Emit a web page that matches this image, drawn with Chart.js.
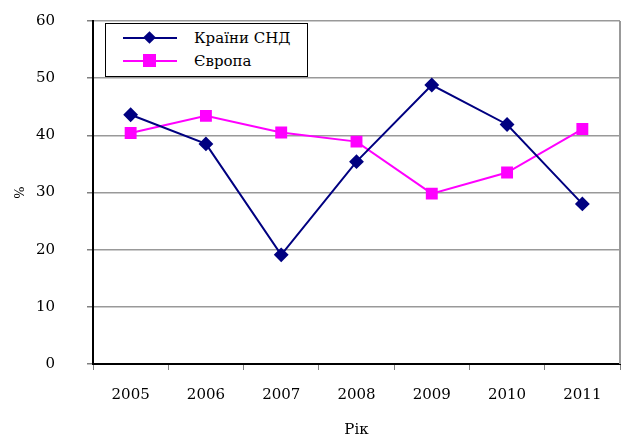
<!DOCTYPE html>
<html>
<head>
<meta charset="utf-8">
<script src="https://cdn.jsdelivr.net/npm/chart.js"></script>
<style>
  body { margin: 0; background: #fff; }
  #wrap { position: relative; width: 622px; height: 439px; }
  #legend {
    position: absolute; left: 105px; top: 23px; width: 203px; height: 54px;
    border: 1px solid #000; background: #fff; box-sizing: border-box;
    font-family: "DejaVu Serif", serif; font-size: 15px;
  }
  .item { position: absolute; left: 0; height: 22px; }
  .line { position: absolute; left: 17px; top: 10px; width: 54px; height: 2px; }
  .mark { position: absolute; }
  .txt { position: absolute; left: 88px; top: 0; white-space: nowrap; line-height: 22px; }
</style>
</head>
<body>
<div id="wrap">
  <canvas id="rates" width="622" height="439"></canvas>
  <div id="legend"></div>
</div>
<script>
var years = ["2005", "2006", "2007", "2008", "2009", "2010", "2011"];
var cisValues = [43.6, 38.5, 19.1, 35.4, 48.8, 41.9, 28];
var europeValues = [40.4, 43.4, 40.5, 38.9, 29.8, 33.5, 41.1];
var seriesNames = ["Країни СНД", "Європа"];
var seriesColors = ["#000080", "#FF00FF"];

var font = { family: "DejaVu Serif", size: 15 };

new Chart("rates", {
  type: "line",
  data: {
    labels: years,
    datasets: [{
      label: seriesNames[0],
      data: cisValues,
      borderColor: seriesColors[0],
      backgroundColor: seriesColors[0],
      borderWidth: 2,
      pointStyle: "rectRot",
      pointRadius: 6,
      pointHoverRadius: 6,
      tension: 0
    }, {
      label: seriesNames[1],
      data: europeValues,
      borderColor: seriesColors[1],
      backgroundColor: seriesColors[1],
      borderWidth: 2,
      pointStyle: "rect",
      pointRadius: 7,
      pointHoverRadius: 7,
      tension: 0
    }]
  },
  options: {
    responsive: false,
    animation: false,
    layout: { autoPadding: false, padding: { top: 21, right: 2, left: 0, bottom: 0 } },
    plugins: {
      legend: { display: false },
      tooltip: { enabled: false }
    },
    scales: {
      x: {
        offset: true,
        grid: { display: true, drawOnChartArea: false, offset: true, tickLength: 6, color: "#808080" },
        border: { color: "#000", width: 2 },
        ticks: { color: "#000", font: font, padding: 16, maxRotation: 0 },
        title: { display: true, text: "Рік", color: "#000", font: font, padding: { top: 11, bottom: 0 } },
        afterFit: function (s) { s.height = 75; s.paddingLeft = 0; s.paddingRight = 0; }
      },
      y: {
        min: 0,
        max: 60,
        ticks: { stepSize: 10, color: "#000", font: font, padding: 32 },
        grid: { color: "#999", lineWidth: 1.5, tickLength: 6, tickColor: "#808080" },
        border: { color: "#000", width: 2 },
        title: { display: true, text: "%", color: "#000", font: { family: "DejaVu Serif", size: 13 }, padding: { top: 13, bottom: 0 } },
        afterFit: function (s) { s.width = 93; s.paddingTop = 0; s.paddingBottom = 0; }
      }
    }
  },
  plugins: [{
    id: "rightEdge",
    afterDraw: function (chart) {
      var a = chart.chartArea, c = chart.ctx;
      c.save();
      c.strokeStyle = "#999";
      c.lineWidth = 2;
      c.beginPath();
      c.moveTo(a.right, a.top);
      c.lineTo(a.right, a.bottom);
      c.stroke();
      c.restore();
    }
  }]
});

// legend box inside the plot
var legend = document.getElementById("legend");
seriesNames.forEach(function (name, i) {
  var item = document.createElement("div");
  item.className = "item";
  item.style.top = (3 + i * 23) + "px";
  item.style.width = "200px";
  var line = document.createElement("div");
  line.className = "line";
  line.style.background = seriesColors[i];
  var mark = document.createElement("div");
  mark.className = "mark";
  mark.style.background = seriesColors[i];
  if (i === 0) {
    mark.style.width = "9px"; mark.style.height = "9px";
    mark.style.transform = "rotate(45deg)";
    mark.style.top = "6px"; mark.style.left = "39px";
  } else {
    mark.style.left = "37px"; mark.style.top = "4px";
    mark.style.width = "13px"; mark.style.height = "13px";
  }
  var txt = document.createElement("span");
  txt.className = "txt";
  txt.textContent = name;
  item.appendChild(line);
  item.appendChild(mark);
  item.appendChild(txt);
  legend.appendChild(item);
});
</script>
</body>
</html>
